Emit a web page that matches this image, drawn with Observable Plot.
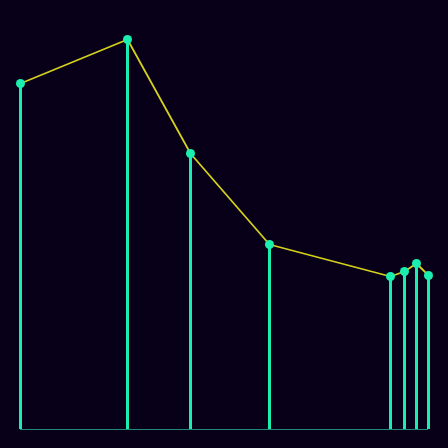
<!DOCTYPE html>
<html><head><meta charset="utf-8">
<script src="https://cdn.jsdelivr.net/npm/d3@7"></script>
<script src="https://cdn.jsdelivr.net/npm/@observablehq/plot@0.6"></script>
<style>
html,body{margin:0;padding:0;background:#080018;overflow:hidden}
</style></head><body>
<div id="chart"></div>
<script>
const xs = [0, 107, 170, 249, 370, 384, 396, 408];
const ys = [346, 390, 276, 185, 153, 158, 166, 154];
const data = xs.map((x, i) => ({x, y: ys[i]}));
const chart = Plot.plot({
  width: 448, height: 448,
  marginLeft: 20, marginRight: 20, marginTop: 39, marginBottom: 19,
  style: {background: "#080018"},
  x: {domain: [0, 408], axis: null},
  y: {domain: [0, 390], axis: null},
  marks: [
    Plot.ruleX(data, {x: "x", y1: 0, y2: "y", stroke: "#1aefb0", strokeWidth: 3}),
    Plot.ruleY([0], {stroke: "#1f8a78", strokeWidth: 1}),
    Plot.line(data, {x: "x", y: "y", stroke: "#d4d01c", strokeWidth: 1.8}),
    Plot.dot(data, {x: "x", y: "y", r: 4.5, fill: "#1aefb0"})
  ]
});
document.getElementById("chart").appendChild(chart);
</script></body></html>
